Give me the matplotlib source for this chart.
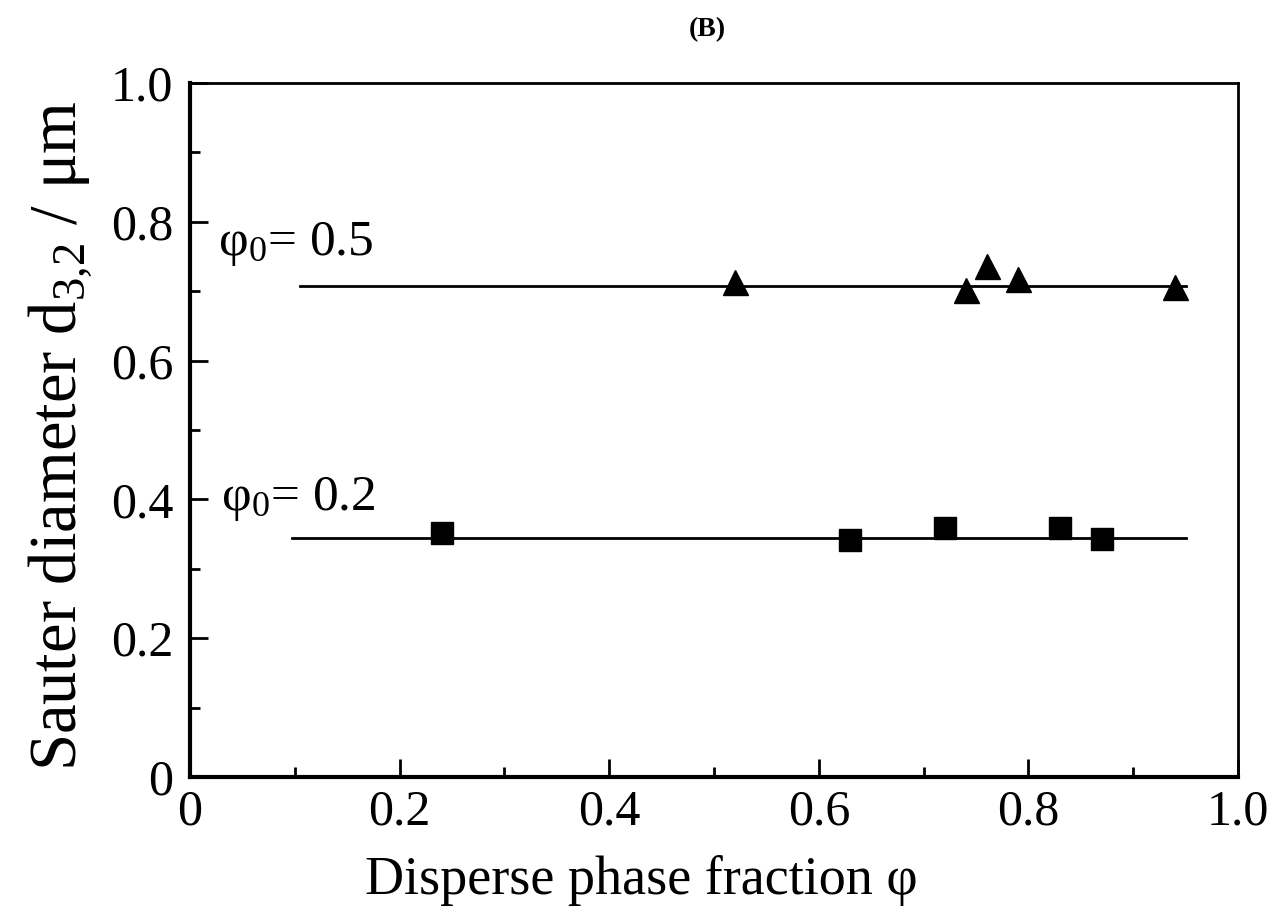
import matplotlib
matplotlib.use("Agg")
import matplotlib.pyplot as plt
from matplotlib.ticker import MultipleLocator

plt.rcParams['font.family'] = ['Liberation Serif', 'DejaVu Serif']
plt.rcParams['mathtext.fontset'] = 'custom'
plt.rcParams['mathtext.rm'] = 'Liberation Serif'
plt.rcParams['mathtext.it'] = 'Liberation Serif:italic'

# phi0 = 0.5 (triangles)
phi_05 = [0.52, 0.74, 0.76, 0.79, 0.94]
d32_05 = [0.713, 0.702, 0.736, 0.717, 0.706]
fit_x_05 = [0.105, 0.95]
fit_y_05 = [0.707, 0.707]

# phi0 = 0.2 (squares)
phi_02 = [0.24, 0.63, 0.72, 0.83, 0.87]
d32_02 = [0.352, 0.341, 0.359, 0.359, 0.343]
fit_x_02 = [0.097, 0.95]
fit_y_02 = [0.344, 0.344]

ticks = [0, 0.2, 0.4, 0.6, 0.8, 1.0]
tick_labels = ['0', '0.2', '0.4', '0.6', '0.8', '1.0']

fig = plt.figure(figsize=(12.79, 9.21), dpi=100)
ax = fig.add_axes([0.1486, 0.1564, 0.8194, 0.7535])

ax.plot(fit_x_05, fit_y_05, color='black', lw=2)
ax.plot(fit_x_02, fit_y_02, color='black', lw=2)
ax.plot(phi_05, d32_05, '^', color='black', markersize=18, zorder=3)
ax.plot(phi_02, d32_02, 's', color='black', markersize=16, zorder=3)

ax.text(0.027, 0.752, r'φ$_0$= 0.5', fontsize=37)
ax.text(0.030, 0.384, r'φ$_0$= 0.2', fontsize=37)

ax.set_xlim(0, 1.0)
ax.set_ylim(0, 1.0)
ax.xaxis.set_minor_locator(MultipleLocator(0.1))
ax.yaxis.set_minor_locator(MultipleLocator(0.1))
ax.set_xticks(ticks, tick_labels)
ax.set_yticks(ticks, tick_labels)

ax.tick_params(which='both', direction='in', top=False, right=False, labelsize=36, width=2)
ax.tick_params(which='major', length=13)
ax.tick_params(axis='x', which='major', pad=9)
ax.tick_params(axis='y', which='major', pad=12)
ax.tick_params(which='minor', length=7)
for side in ['left', 'bottom']:
    ax.spines[side].set_linewidth(3)
for side in ['top', 'right']:
    ax.spines[side].set_linewidth(2)

ax.set_xlabel('Disperse phase fraction φ', fontsize=39)
ax.xaxis.set_label_coords(0.431, -0.112, transform=ax.transAxes)
ax.set_ylabel(r'Sauter diameter d$_{3{,}2}$ / μm', fontsize=48)
ax.yaxis.set_label_coords(-0.092, 0.492, transform=ax.transAxes)
fig.text(0.553, 0.968, '(B)', fontsize=20, fontweight='bold', ha='center', va='center')

fig.savefig('out.png', dpi=100)
